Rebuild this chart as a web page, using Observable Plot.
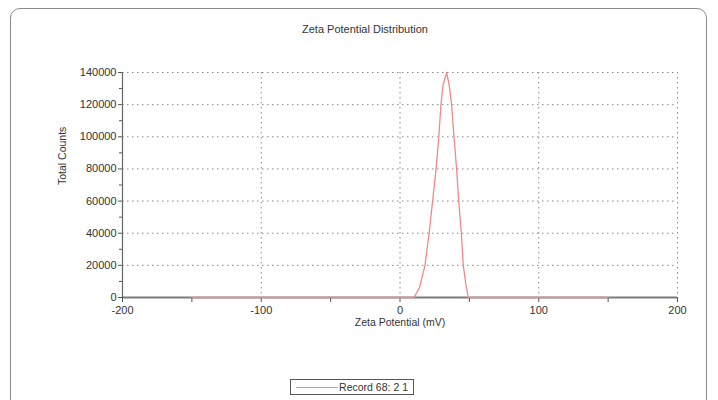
<!DOCTYPE html>
<html><head><meta charset="utf-8">
<script src="https://cdn.jsdelivr.net/npm/d3@7"></script>
<script src="https://cdn.jsdelivr.net/npm/@observablehq/plot@0.6"></script>
<style>
body{margin:0;background:#fff;font-family:"Liberation Sans",Arial,sans-serif;}
#wrap{position:relative;width:718px;height:400px;overflow:hidden;}
#frame{position:absolute;left:10px;top:8px;width:697px;height:420px;border:1px solid #8a8a8a;border-radius:10px;box-sizing:border-box;}
#title{position:absolute;top:23px;left:0;width:730px;text-align:center;font-size:11px;color:#333;}
#legend{position:absolute;left:290px;top:379px;width:124px;height:16px;border:1px solid #555;box-sizing:border-box;font-size:10.5px;color:#333;}
#legend .sw{position:absolute;left:5px;top:7px;width:42px;height:0;border-top:1.5px solid #f08a8a;}
#legend .tx{position:absolute;right:5px;top:1px;}
#chart{position:absolute;left:0;top:0;}
</style></head>
<body>
<div id="wrap">
<div id="frame"></div>
<div id="chart"></div>
<div id="title">Zeta Potential Distribution</div>
<div id="legend"><div class="sw"></div><div class="tx">Record 68: 2 1</div></div>
</div>
<script>
const seriesName = "Record 68: 2 1";
const zeta = [-150, 10, 14, 18, 21, 23.5, 26, 28, 29.5, 31, 33.6, 35.5, 37.2, 38.9, 40.8, 42.3, 44.2, 45.6, 47.5, 49.2, 150];
const counts = [0, 0, 6000, 20000, 40000, 60000, 80000, 100000, 120000, 132000, 140000, 132000, 120000, 100000, 80000, 60000, 40000, 20000, 8000, 0, 0];
const xTicks = [-200, -100, 0, 100, 200];
const xMinor = [-150, -50, 50, 150];
const yTicks = [0, 20000, 40000, 60000, 80000, 100000, 120000, 140000];
const yMinor = [10000, 30000, 50000, 70000, 90000, 110000, 130000];

const data = zeta.map((z, i) => ({z, c: counts[i]}));
const dot = {stroke: "#888", strokeWidth: 1, strokeDasharray: "1.5,3.5"};

const chart = Plot.plot({
  width: 718, height: 400,
  marginLeft: 122, marginRight: 41, marginTop: 72, marginBottom: 103,
  style: {fontFamily: "Liberation Sans, Arial, sans-serif", fontSize: "11px", color: "#333", background: "transparent"},
  x: {domain: [-200, 200], label: null},
  y: {domain: [0, 140000], label: null},
  marks: [
    Plot.ruleY(yTicks.filter(d => d > 0), {...dot}),
    Plot.ruleX(xTicks.filter(d => d > -200), {...dot}),
    Plot.ruleY([0], {stroke: "#7a7a7a", strokeWidth: 2}),
    Plot.ruleX([-200], {stroke: "#666", strokeWidth: 1.2}),
    Plot.axisY({ticks: yTicks, tickSize: 4, tickPadding: 2, tickFormat: d => String(d), anchor: "left", stroke: "#555"}),
    Plot.axisY({ticks: yMinor, tickSize: 3, text: null, anchor: "left", stroke: "#555"}),
    Plot.axisX({ticks: xTicks, tickSize: 5, tickPadding: 4, tickFormat: d => String(d), anchor: "bottom", stroke: "#555"}),
    Plot.axisX({ticks: xMinor, tickSize: 5, text: null, anchor: "bottom", stroke: "#555"}),
    Plot.line(data, {x: "z", y: "c", stroke: "#f08a8a", strokeWidth: 1.3}),
    Plot.text(["Zeta Potential (mV)"], {frameAnchor: "bottom", dy: 28, text: d => d, fill: "#333", fontSize: 10.5}),
    Plot.text(["Total Counts"], {frameAnchor: "left", dx: -60, rotate: -90, text: d => d, fill: "#333", fontSize: 10.5})
  ]
});
document.getElementById("chart").appendChild(chart);
</script>
</body></html>
